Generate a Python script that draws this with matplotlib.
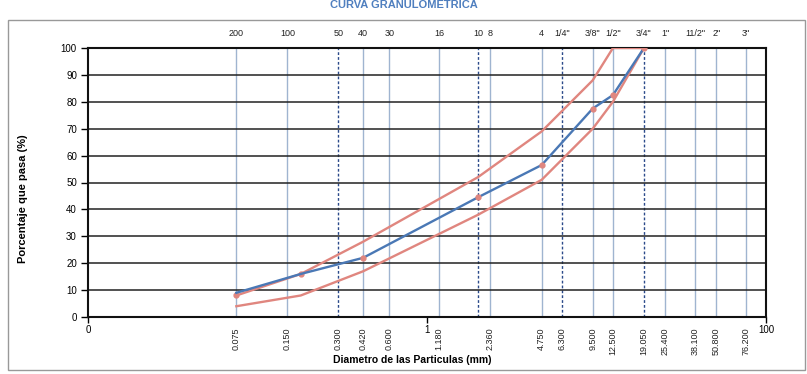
import matplotlib
matplotlib.use("Agg")
import matplotlib.pyplot as plt
from matplotlib.transforms import blended_transform_factory
from matplotlib.patches import Rectangle

plt.rcParams['font.family'] = ['Liberation Sans', 'DejaVu Sans']

# sieve grid (mm) and labels
sieve_mm = [0.075, 0.150, 0.300, 0.420, 0.600, 1.180, 2.000, 2.360, 4.750,
            6.300, 9.500, 12.500, 19.050, 25.400, 38.100, 50.800, 76.200]
sieve_names = ['200', '100', '50', '40', '30', '16', '10', '8', '4',
               '1/4"', '3/8"', '1/2"', '3/4"', '1"', '11/2"', '2"', '3"']
dashed_mm = [0.300, 2.000, 6.300, 19.050]
bottom_mm = [0.075, 0.150, 0.300, 0.420, 0.600, 1.180, 2.360, 4.750,
             6.300, 9.500, 12.500, 19.050, 25.400, 38.100, 50.800, 76.200]
bottom_labels = ['0.075', '0.150', '0.300', '0.420', '0.600', '1.180', '2.360',
                 '4.750', '6.300', '9.500', '12.500', '19.050', '25.400',
                 '38.100', '50.800', '76.200']

# gradation data
curve_mm = [0.075, 0.18, 0.42, 2.0, 4.75, 9.5, 12.5, 19.05]
upper = [8, 16, 28, 52, 69, 88, 100, 100]
lower = [4, 8, 17, 38, 51, 70, 80, 100]
sample = [9, 16, 22, 44.5, 56.5, 77.5, 82.5, 100]

red = '#e0867f'
blue = '#4a78b5'

fig = plt.figure(figsize=(8.07, 3.74), dpi=100)
ax = fig.add_axes([88 / 807, 1 - 317 / 374, 678 / 807, 269 / 374])

ax.set_xscale('log')
ax.set_xlim(0.01, 100)
ax.set_ylim(0, 100)

# vertical sieve lines
for d in sieve_mm:
    if d in dashed_mm:
        ax.axvline(d, color='#2b4a8a', lw=1.0, ls=(0, (2, 1.5)), zorder=1)
    else:
        ax.axvline(d, color='#9fb4d0', lw=1.0, zorder=1)

# horizontal grid
for v in range(10, 100, 10):
    ax.axhline(v, color='#222222', lw=1.1, zorder=1)

ax.plot(curve_mm, upper, color=red, lw=1.7, zorder=3)
ax.plot(curve_mm[:2], upper[:2], ls='none', marker='o', ms=3.5,
        mfc=red, mec=red, zorder=3)
ax.plot(curve_mm, lower, color=red, lw=1.7, zorder=3)
ax.plot(curve_mm, sample, color=blue, lw=1.7, zorder=4)
ax.plot(curve_mm[2:], sample[2:], ls='none', marker='o', ms=3.5,
        mfc=red, mec=red, zorder=4)

ax.set_yticks(range(0, 101, 10))
ax.tick_params(axis='y', direction='out', length=5, width=1, labelsize=7, pad=3)
ax.xaxis.set_minor_locator(plt.NullLocator())
ax.set_xticks([0.01, 1, 100])
ax.set_xticklabels(['0', '1', '100'])
ax.tick_params(axis='x', direction='out', length=4, width=1, labelsize=7, pad=2)
for s in ax.spines.values():
    s.set_linewidth(1.5)
    s.set_color('#111111')

trans = blended_transform_factory(ax.transData, ax.transAxes)
for d, n in zip(sieve_mm, sieve_names):
    ax.text(d, 1.055, n, transform=trans, ha='center', va='center',
            fontsize=6.5, color='#222222')
for d, n in zip(bottom_mm, bottom_labels):
    ax.text(d, -0.04, n, transform=trans, ha='center', va='top',
            rotation=90, fontsize=6.5, color='#222222')

ax.set_ylabel('Porcentaje que pasa (%)', fontsize=8, fontweight='bold')
ax.yaxis.set_label_coords(-0.088, 0.44)
fig.text(333 / 807, 1 - 360 / 374, 'Diametro de las Particulas (mm)',
         fontsize=7.5, fontweight='bold', ha='left', va='center')
fig.text(404 / 807, 1 - 5 / 374, 'CURVA GRANULOMETRICA', fontsize=8,
         fontweight='bold', color='#4f7fbf', ha='center', va='center')

fig.patches.append(Rectangle((8 / 807, 4 / 374), 797 / 807, 350 / 374,
                             transform=fig.transFigure, fill=False,
                             ec='#999999', lw=1))

fig.savefig('out.png', dpi=100)
